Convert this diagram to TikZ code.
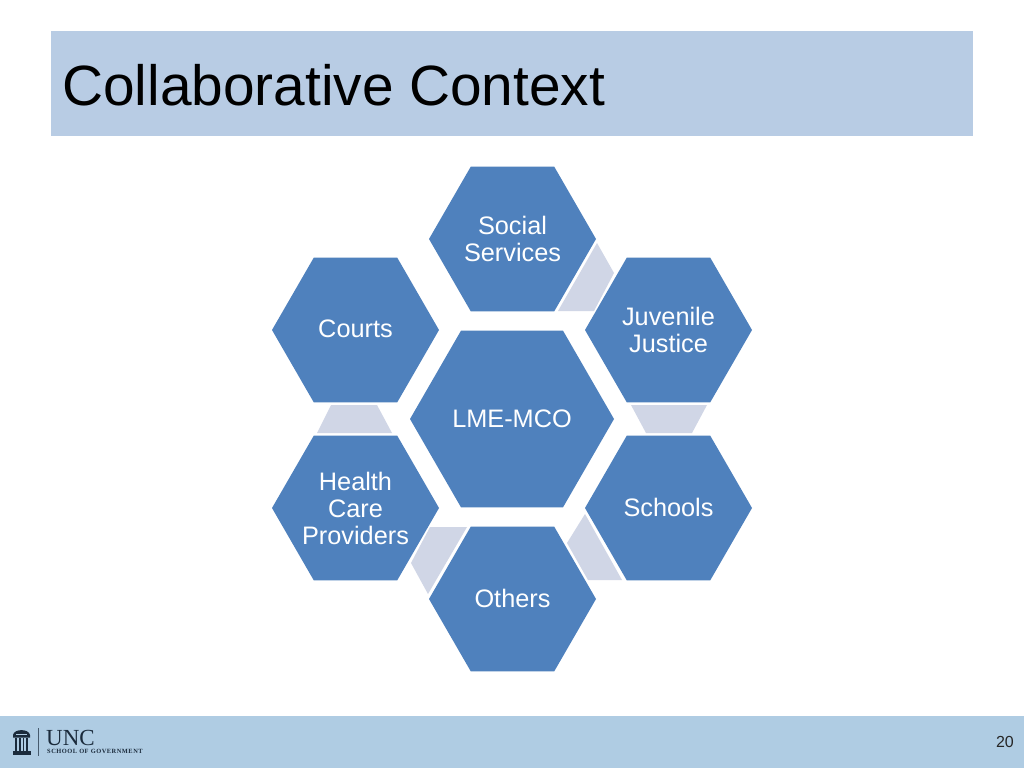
\documentclass[tikz,border=0pt]{standalone}
\usepackage{fontspec}
\setmainfont{Liberation Sans}
\newfontfamily\logoserif{Liberation Serif}
\usetikzlibrary{shapes.geometric}
\definecolor{hexblue}{HTML}{4F81BD}
\definecolor{linkgray}{HTML}{D0D6E6}
\definecolor{titleband}{HTML}{B8CCE4}
\definecolor{footband}{HTML}{AFCCE3}
\definecolor{logoink}{HTML}{1B2B3C}
\tikzset{
  hexnode/.style={regular polygon,regular polygon sides=6,fill=hexblue,
    minimum size=#1,inner sep=0pt,outer sep=0pt},
  hexnode/.default=167,
  hextext/.style={text=white,inner sep=0pt,align=center,
    font=\fontsize{25.3}{27}\selectfont},
  linkshape/.style={fill=linkgray,draw=none},
  wellink/.style={fill=logoink,draw=none},
}
\begin{document}
\begin{tikzpicture}[x=1pt,y=-1pt]
\useasboundingbox (0,0) rectangle (1024,768);
\fill[white] (0,0) rectangle (1024,768);
\fill[titleband] (51,31) rectangle (973,136);
\fill[footband] (0,716) rectangle (1024,768);
\node[anchor=west,inner sep=0pt,font=\fontsize{56.8}{60}\selectfont,text=black] (title) at (62,85.5) {Collaborative Context};
\node[anchor=east,inner sep=0pt,font=\fontsize{16}{18}\selectfont,text=black!85] (page) at (1014,742) {20};
% connector bands
\fill[linkshape] (597,243) -- (614,273) -- (594,311) -- (558,311) -- cycle;
\fill[linkshape] (631,405) -- (707,405) -- (692,433) -- (646,433) -- cycle;
\fill[linkshape] (585,514) -- (622,580) -- (588,580) -- (567,543) -- cycle;
\fill[linkshape] (467,527) -- (428,594) -- (411,563) -- (430,527) -- cycle;
\fill[linkshape] (317,433) -- (392,433) -- (377,405) -- (331,405) -- cycle;
% hexagons
\node[hexnode=204,label={[hextext]center:LME-MCO}] (lme) at (512,419) {};
\node[hexnode,label={[hextext]center:Social\\Services}] (social) at (512.5,239) {};
\node[hexnode,label={[hextext]center:Juvenile\\Justice}] (juvenile) at (668.5,330) {};
\node[hexnode,label={[hextext,yshift=1pt]center:Schools}] (schools) at (668.5,508) {};
\node[hexnode,label={[hextext,yshift=1pt]center:Others}] (others) at (512.5,599) {};
\node[hexnode,label={[hextext]center:Health\\Care\\Providers}] (health) at (355.5,508) {};
\node[hexnode,label={[hextext,yshift=1pt]center:Courts}] (courts) at (355.5,330) {};
% logo: well
\fill[wellink] (13,735) .. controls (14,728.5) and (29,728.5) .. (30,735) -- (30,737.5) -- (13,737.5) -- cycle;
\fill[footband] (16,733.8) rectangle (27,735.2);
\fill[wellink] (15,738) rectangle (17,751);
\fill[wellink] (19,738) rectangle (20.5,751);
\fill[wellink] (22.5,738) rectangle (24,751);
\fill[wellink] (26,738) rectangle (28,751);
\fill[wellink] (12.5,751) rectangle (31,755);
\draw[logoink!70!footband,line width=0.9pt] (38,728) -- (38,756);
\node[anchor=base west,inner sep=0pt,font=\logoserif\fontsize{23}{23}\selectfont,text=logoink] (unc) at (46,745.5) {UNC};
\node[anchor=base west,inner sep=0pt,font=\logoserif\bfseries\fontsize{6.4}{6.4}\selectfont,text=logoink] (sog) at (47,753.5) {\addfontfeature{LetterSpace=8}SCHOOL OF GOVERNMENT};
\end{tikzpicture}
\end{document}
